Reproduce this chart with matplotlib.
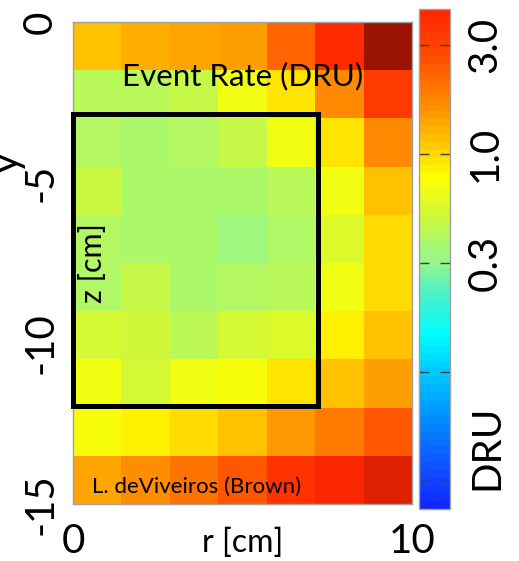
import numpy as np
import matplotlib
matplotlib.use('Agg')
import matplotlib.pyplot as plt
from matplotlib.colors import LogNorm, LinearSegmentedColormap, ListedColormap
from matplotlib.cm import ScalarMappable
from matplotlib.patches import Rectangle

plt.rcParams['font.family'] = ['Lato', 'DejaVu Sans']

# bin edges (cm)
r_edges = np.linspace(0, 10, 8)
z_edges = np.linspace(0, -15, 11)

# event rate per cell (DRU), rows from top (z=0) to bottom (z=-15)
rate = np.array([
    [1.18, 1.35, 1.45, 1.52, 2.40, 4.50, 9.00],
    [0.44, 0.44, 0.48, 0.70, 0.95, 1.75, 3.60],
    [0.42, 0.40, 0.42, 0.48, 0.70, 0.95, 1.75],
    [0.50, 0.40, 0.40, 0.40, 0.44, 0.70, 1.18],
    [0.42, 0.40, 0.40, 0.36, 0.41, 0.58, 1.00],
    [0.41, 0.48, 0.40, 0.42, 0.44, 0.70, 1.00],
    [0.54, 0.52, 0.45, 0.54, 0.58, 0.88, 1.18],
    [0.70, 0.53, 0.70, 0.75, 0.95, 1.18, 1.52],
    [0.75, 0.87, 1.00, 1.18, 1.60, 2.00, 2.70],
    [1.45, 1.70, 2.10, 2.70, 4.00, 4.80, 6.00],
])

# fiducial box
fid_r = 7.23
fid_z_top = -2.85
fid_z_bot = -11.95

cbar_ticks = [3.16, 1.0, 0.316, 0.1, 0.0316]
cbar_ticklabels = ['3.0', '1.0', '0.3', '', '']

vmin, vtop, vmax = 0.0235, 4.62, 10.0

# colour anchors (value in DRU, colour)
anchor_vals = [0.0235, 0.035, 0.06, 0.1, 0.148, 0.214, 0.316, 0.38, 0.52,
               0.80, 1.16, 1.77, 3.16, 4.62, 6.0, 10.0]
anchor_cols = ['#1028ff', '#1050ff', '#0090ff', '#00ccff', '#00ffff', '#40f0d0',
               '#94f690', '#a6f874', '#d0f838', '#ffff00', '#ffc400', '#ff8800',
               '#ff4400', '#ff2800', '#dc2000', '#8a1000']

norm = LogNorm(vmin=vmin, vmax=vmax)
pos = [float(norm(v)) for v in anchor_vals]
pos[0], pos[-1] = 0.0, 1.0
cmap = LinearSegmentedColormap.from_list('dru', list(zip(pos, anchor_cols)), N=512)

fig = plt.figure(figsize=(5.19, 5.61), dpi=100)
ax = fig.add_axes([73/519, 57/561, 339/519, 482/561])
cax = fig.add_axes([419/519, 52/561, 31/519, 500/561])

ax.pcolormesh(r_edges, z_edges, rate, cmap=cmap, norm=norm)
ax.set_xlim(0, 10)
ax.set_ylim(-15, 0)

ax.add_patch(Rectangle((0, fid_z_bot), fid_r, fid_z_top - fid_z_bot, fill=False,
                       ec='black', lw=3.6, clip_on=False, zorder=5))

ax.set_xticks([0, 10])
ax.set_xticklabels(['0', '10'])
ax.set_yticks([0, -5, -10, -15])
ax.set_yticklabels(['0', '-5', '-10', '-15'], rotation=90, va='center')
ax.tick_params(length=0, labelsize=29, pad=10)
ax.tick_params(axis='x', pad=14)
for s in ax.spines.values():
    s.set_color('#a0a0a0')
    s.set_linewidth(1.0)

ax.text(0.5, 0.888, 'Event Rate (DRU)', transform=ax.transAxes, ha='center',
        va='center', fontsize=22.5)
ax.text(0.06, 0.5, 'z [cm]', transform=ax.transAxes, ha='center', va='center',
        rotation=90, fontsize=22)
ax.text(0.056, 0.035, 'L. deViveiros (Brown)', transform=ax.transAxes,
        ha='left', va='center', fontsize=16)
ax.text(0.5, -0.08, 'r [cm]', transform=ax.transAxes, ha='center', va='center',
        fontsize=23)
fig.text(-0.022, 0.71, 'y', rotation=90, ha='left', va='center', fontsize=29)

# colour bar shows only up to vtop
ftop = float(norm(vtop))
cmap_bar = ListedColormap(cmap(np.linspace(0, ftop, 64)))
cb = fig.colorbar(ScalarMappable(norm=LogNorm(vmin=vmin, vmax=vtop), cmap=cmap_bar),
                  cax=cax)
cb.set_ticks(cbar_ticks)
cb.set_ticklabels(cbar_ticklabels)
cb.ax.minorticks_off()
cb.ax.tick_params(which='major', length=7, width=1.0, direction='in', color='#404040',
                  left=True, right=True, labelsize=29, pad=12)
for lab in cb.ax.get_yticklabels():
    lab.set_rotation(90)
    lab.set_va('center')
cb.outline.set_edgecolor('#a0a0a0')
cb.outline.set_linewidth(1.0)
cb.ax.text(2.19, 0.124, 'DRU', transform=cb.ax.transAxes, ha='center', va='center',
           rotation=90, fontsize=29)

fig.savefig('out.png', dpi=100)
